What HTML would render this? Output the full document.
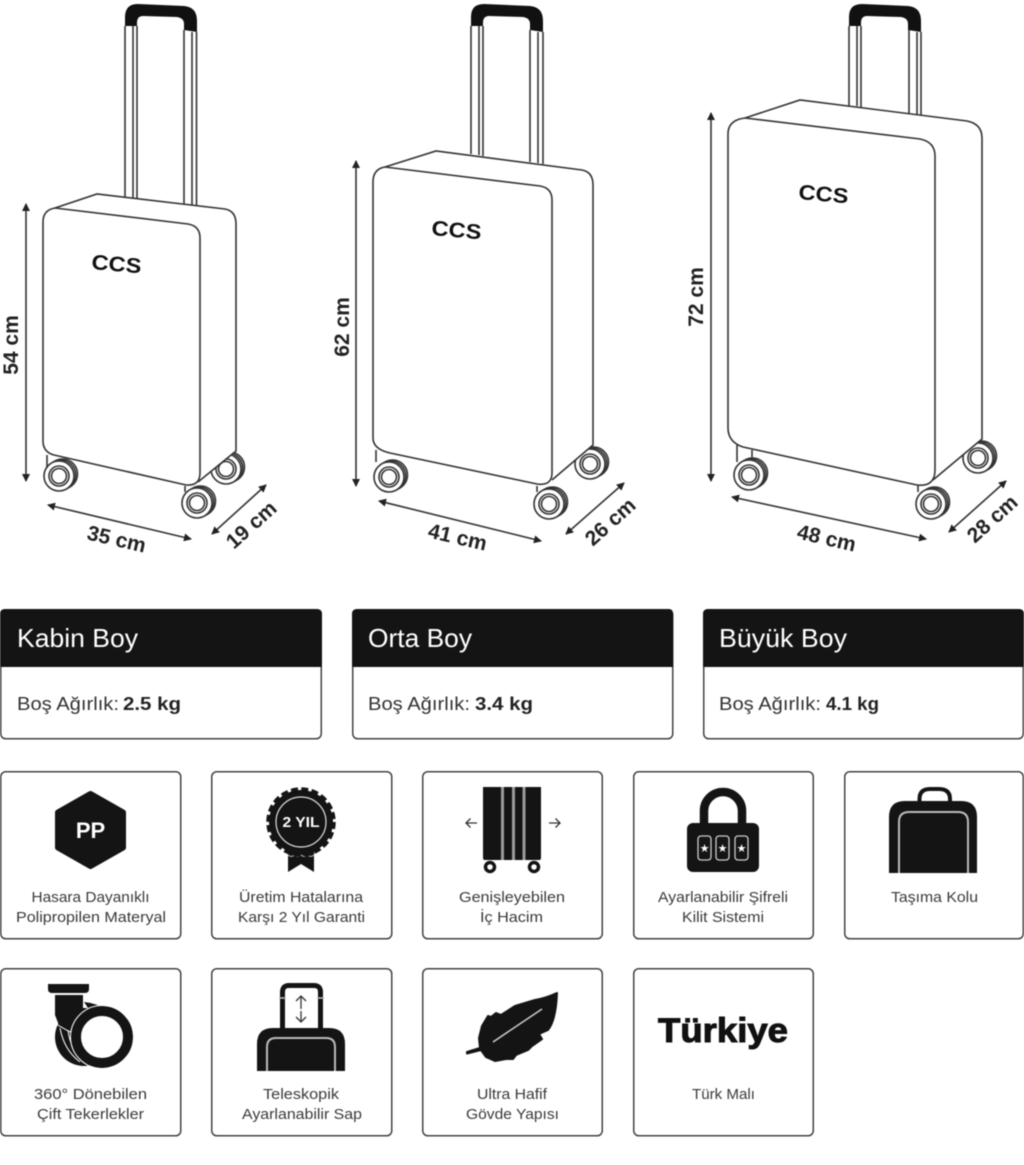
<!DOCTYPE html>
<html lang="tr"><head><meta charset="utf-8"><title>Valiz Ölçüleri</title>
<style>
html,body{margin:0;padding:0;background:#fff}
svg{display:block;filter:blur(.5px)}
text{font-family:"Liberation Sans",Arial,sans-serif}
.l{stroke:#333;stroke-width:1.6;fill:none}
.b{stroke:#333;stroke-width:1.6;fill:#fff}
.dim{font-size:21px;font-weight:bold;fill:#222;text-anchor:middle}
.logo{font-size:21px;font-weight:bold;fill:#111}
.card{fill:#fff;stroke:#444;stroke-width:1.5}
.t{font-size:15px;fill:#3a3a3a;text-anchor:middle}
.h{font-size:26px;fill:#fff}
.w{font-size:18.5px;fill:#333}
.wb{font-size:18.5px;font-weight:bold;fill:#222}
</style></head><body>
<svg width="1024" height="1165" viewBox="0 0 1024 1165" xmlns="http://www.w3.org/2000/svg">
<defs>
<marker id="a" markerUnits="userSpaceOnUse" markerWidth="9" markerHeight="9" refX="7" refY="4" orient="auto-start-reverse"><path d="M0 0L8 4L0 8Z" fill="#222"/></marker>
<g id="hand"><path d="M125 26V17Q125 4 138 4L184 6Q197 7 197 21V32L184 30V24Q184 18 177 17L143 16Q137 16 137 23V26Z" fill="#111"/></g>
<g id="wf"><circle class="b" cx="3.500" cy="-2" r="15"/><circle class="b" cx="1.700" cy="-1" r="15"/><circle class="b" r="15"/><circle class="l" r="10"/><circle class="l" r="7.500"/></g>
</defs>
<rect width="1024" height="1165" fill="#fff"/>

<!-- Kabin -->
<use href="#hand"/>
<path class="l" d="M125 26V197M133 26V198M137 26V198M184 30V204M192 32V205M196.500 32V205"/>
<use href="#wf" x="59" y="476"/><use href="#wf" x="197" y="503"/><use href="#wf" x="226" y="469"/>
<path class="l" d="M47 455V468M185 486V492"/>
<path class="b" d="M55 208L97 194L225 209Q236 211 236 224V451L198 482"/>
<path class="b" d="M43 222Q43 210 55 208L188 224Q200 226 200 238V473Q200 486 186 485L54 455Q43 452 43 441Z"/>
<text class="logo" x="91" y="269" textLength="50" lengthAdjust="spacingAndGlyphs" transform="rotate(5 91 269)">CCS</text>
<line class="l" x1="26" y1="204" x2="26" y2="481" marker-start="url(#a)" marker-end="url(#a)"/>
<line class="l" x1="48" y1="505" x2="191" y2="539" marker-start="url(#a)" marker-end="url(#a)"/>
<line class="l" x1="212" y1="534" x2="266" y2="485" marker-start="url(#a)" marker-end="url(#a)"/>
<text class="dim" transform="translate(18 345) rotate(-90)">54 cm</text>
<text class="dim" transform="translate(115 546) rotate(13)">35 cm</text>
<text class="dim" transform="translate(256 530) rotate(-42)">19 cm</text>

<!-- Orta -->
<use href="#hand" x="346"/>
<path class="l" d="M471 26V154M479 26V155M483 26V156M530 30V162M538 32V163M543 32V164"/>
<use href="#wf" x="389" y="477"/><use href="#wf" x="549" y="504"/><use href="#wf" x="590" y="464"/>
<path class="l" d="M376 450V462M537 486V492"/>
<path class="b" d="M385 167L436 151L582 170Q593 172 593 185V445L552 480"/>
<path class="b" d="M373 182Q373 169 385 167L540 186Q552 188 552 200V473Q552 486 537 484L390 453Q373 449 373 438Z"/>
<text class="logo" x="431" y="235" textLength="50" lengthAdjust="spacingAndGlyphs" transform="rotate(5 431 235)">CCS</text>
<line class="l" x1="356" y1="161" x2="356" y2="486" marker-start="url(#a)" marker-end="url(#a)"/>
<line class="l" x1="379" y1="501" x2="541" y2="541" marker-start="url(#a)" marker-end="url(#a)"/>
<line class="l" x1="566" y1="534" x2="624" y2="483" marker-start="url(#a)" marker-end="url(#a)"/>
<text class="dim" transform="translate(349 327) rotate(-90)">62 cm</text>
<text class="dim" transform="translate(456 544) rotate(13)">41 cm</text>
<text class="dim" transform="translate(615 527) rotate(-42)">26 cm</text>

<!-- Büyük -->
<use href="#hand" x="724"/>
<path class="l" d="M849 26V106M857 26V106M861 26V107M909 30V114M917 32V115M921 32V115"/>
<use href="#wf" x="749" y="475"/><use href="#wf" x="931" y="504"/><use href="#wf" x="978" y="458"/>
<path class="l" d="M737 445V462M752 450V458M918 484V492"/>
<path class="b" d="M745 118L800 100L967 121Q982 124 982 138V439L933 480"/>
<path class="b" d="M728 134Q728 120 745 118L920 139Q935 142 935 156V470Q935 487 917 485L743 447Q728 442 728 428Z"/>
<text class="logo" x="798" y="199" textLength="50" lengthAdjust="spacingAndGlyphs" transform="rotate(5 798 199)">CCS</text>
<line class="l" x1="711" y1="113" x2="711" y2="481" marker-start="url(#a)" marker-end="url(#a)"/>
<line class="l" x1="732" y1="497" x2="926" y2="539" marker-start="url(#a)" marker-end="url(#a)"/>
<line class="l" x1="949" y1="532" x2="1006" y2="481" marker-start="url(#a)" marker-end="url(#a)"/>
<text class="dim" transform="translate(703 297) rotate(-90)">72 cm</text>
<text class="dim" transform="translate(825 545) rotate(13)">48 cm</text>
<text class="dim" transform="translate(997 524) rotate(-42)">28 cm</text>

<!-- Boy kartları -->
<rect class="card" x="0.75" y="609.750" width="320.500" height="129" rx="5"/>
<path d="M0 667V614Q0 609 5 609H317Q322 609 322 614V667Z" fill="#141414"/>
<text class="h" x="17" y="647" textLength="121" lengthAdjust="spacingAndGlyphs">Kabin Boy</text>
<text class="w" x="17" y="710" textLength="102" lengthAdjust="spacingAndGlyphs">Boş Ağırlık:</text><text class="wb" x="123" y="710" textLength="58" lengthAdjust="spacingAndGlyphs">2.5 kg</text>

<rect class="card" x="352.750" y="609.750" width="320" height="129" rx="5"/>
<path d="M352 667V614Q352 609 357 609H669Q673 609 673 614V667Z" fill="#141414"/>
<text class="h" x="368" y="647" textLength="104" lengthAdjust="spacingAndGlyphs">Orta Boy</text>
<text class="w" x="368" y="710" textLength="102" lengthAdjust="spacingAndGlyphs">Boş Ağırlık:</text><text class="wb" x="475" y="710" textLength="58" lengthAdjust="spacingAndGlyphs">3.4 kg</text>

<rect class="card" x="703.750" y="609.750" width="319.500" height="129" rx="5"/>
<path d="M703 667V614Q703 609 708 609H1019Q1024 609 1024 614V667Z" fill="#141414"/>
<text class="h" x="719" y="647" textLength="128" lengthAdjust="spacingAndGlyphs">Büyük Boy</text>
<text class="w" x="719" y="710" textLength="102" lengthAdjust="spacingAndGlyphs">Boş Ağırlık:</text><text class="wb" x="826" y="710" textLength="53" lengthAdjust="spacingAndGlyphs">4.1 kg</text>

<!-- Özellik kartları -->
<rect class="card" x="0.750" y="771.750" width="180" height="167" rx="5"/>
<rect class="card" x="211.750" y="771.750" width="180" height="167" rx="5"/>
<rect class="card" x="422.750" y="771.750" width="179.500" height="167" rx="5"/>
<rect class="card" x="633.750" y="771.750" width="179.500" height="167" rx="5"/>
<rect class="card" x="844.750" y="771.750" width="178.500" height="167" rx="5"/>
<rect class="card" x="0.750" y="968.750" width="180" height="167" rx="5"/>
<rect class="card" x="211.750" y="968.750" width="180" height="167" rx="5"/>
<rect class="card" x="422.750" y="968.750" width="179.500" height="167" rx="5"/>
<rect class="card" x="633.750" y="968.750" width="179.500" height="167" rx="5"/>

<!-- PP -->
<path d="M90.500 794L123 812.500V847.500L90.500 866L58 847.500V812.500Z" fill="#141414" stroke="#141414" stroke-width="6" stroke-linejoin="round"/>
<text x="90.500" y="838" font-size="22" font-weight="bold" fill="#fff" text-anchor="middle">PP</text>
<text class="t" x="90.500" y="902" textLength="118" lengthAdjust="spacingAndGlyphs">Hasara Dayanıklı</text>
<text class="t" x="91" y="922" textLength="150" lengthAdjust="spacingAndGlyphs">Polipropilen Materyal</text>

<!-- Garanti -->
<path d="M288 848H314V872L301 864L288 872Z" fill="#141414"/>
<path d="M288 855q3.200 3 6.500 0q3.200 3 6.500 0q3.200 3 6.500 0q3.200 3 6.500 0" fill="none" stroke="#bbb" stroke-width="1"/>
<circle cx="301" cy="822" r="32" fill="#141414"/>
<circle cx="301" cy="822" r="33" fill="none" stroke="#141414" stroke-width="3.500" stroke-dasharray="7 3.370"/>
<circle cx="301" cy="822" r="25" fill="none" stroke="#ddd" stroke-width="1.200"/>
<text x="301" y="827" font-size="14.500" font-weight="bold" fill="#fff" text-anchor="middle" textLength="37" lengthAdjust="spacingAndGlyphs">2 YIL</text>
<text class="t" x="301" y="902" textLength="124" lengthAdjust="spacingAndGlyphs">Üretim Hatalarına</text>
<text class="t" x="301.500" y="922" textLength="127" lengthAdjust="spacingAndGlyphs">Karşı 2 Yıl Garanti</text>

<!-- Genişleyebilen -->
<path d="M483 787H541V858Q541 860 539 860H485Q483 860 483 858Z" fill="#141414"/>
<path d="M502.500 787V860M513.500 787V860M524 787V860" stroke="#999" stroke-width="3" fill="none"/>
<circle cx="490" cy="867" r="4.500" fill="#fff" stroke="#141414" stroke-width="3.500"/>
<circle cx="534" cy="867" r="4.500" fill="#fff" stroke="#141414" stroke-width="3.500"/>
<path d="M477 823H466M470.500 818.500L466 823L470.500 827.500M549 823H560M555.500 818.500L560 823L555.500 827.500" fill="none" stroke="#333" stroke-width="1.300"/>
<text class="t" x="512" y="902" textLength="106" lengthAdjust="spacingAndGlyphs">Genişleyebilen</text>
<text class="t" x="511.500" y="922" textLength="63" lengthAdjust="spacingAndGlyphs">İç Hacim</text>

<!-- Kilit -->
<path d="M704 825V811A19 19 0 0 1 742 811V825" fill="none" stroke="#141414" stroke-width="8.500"/>
<rect x="687" y="823" width="72" height="49" rx="6" fill="#141414"/>
<g fill="none" stroke="#ccc" stroke-width="1.300"><rect x="698" y="836" width="13" height="24" rx="3"/><rect x="716" y="836" width="13" height="24" rx="3"/><rect x="735" y="836" width="13" height="24" rx="3"/></g>
<g fill="#fff" font-size="11" text-anchor="middle"><text x="704.500" y="852">★</text><text x="722.500" y="852">★</text><text x="741.500" y="852">★</text></g>
<text class="t" x="723" y="902" textLength="130" lengthAdjust="spacingAndGlyphs">Ayarlanabilir Şifreli</text>
<text class="t" x="723" y="922" textLength="82" lengthAdjust="spacingAndGlyphs">Kilit Sistemi</text>

<!-- Taşıma kolu -->
<path d="M919.500 802V799Q919.500 789 930 789H939Q950 789 950 799V802" fill="none" stroke="#141414" stroke-width="4"/>
<path d="M889 873V817Q889 801 905 801H961Q977 801 977 817V873Z" fill="#141414"/>
<path d="M899 873V822Q899 812 909 812H958Q968 812 968 822V873" fill="none" stroke="#bbb" stroke-width="2"/>
<text class="t" x="934.500" y="902" textLength="87" lengthAdjust="spacingAndGlyphs">Taşıma Kolu</text>

<!-- Tekerlek -->
<path d="M48 984H89V989Q89 993 85 993H52Q48 993 48 989Z" fill="#141414"/>
<path d="M55 995H83V1012L90 1020L72 1040L60 1028L55 1015Z" fill="#141414"/>
<path d="M84 1002Q96 1003 108 1010L96 1020Z" fill="#141414"/>
<circle cx="84" cy="1037" r="29" fill="#141414"/>
<path d="M60 1028Q64 1050 80 1062M68 1030Q70 1050 86 1064M56 1024L70 1032L90 1010" fill="none" stroke="#fff" stroke-width="1"/>
<circle cx="102" cy="1037" r="26" fill="#fff" stroke="#141414" stroke-width="10"/>
<circle cx="102" cy="1037" r="31.500" fill="none" stroke="#fff" stroke-width="1"/>
<text class="t" x="90.500" y="1099" textLength="113" lengthAdjust="spacingAndGlyphs">360° Dönebilen</text>
<text class="t" x="90.500" y="1119" textLength="107" lengthAdjust="spacingAndGlyphs">Çift Tekerlekler</text>

<!-- Teleskopik -->
<path d="M282.500 1028V992Q282.500 985.500 289 985.500H314Q320.500 985.500 320.500 992V1028" fill="none" stroke="#141414" stroke-width="5"/>
<path d="M279 998H286M317 998H324" stroke="#bbb" stroke-width="1.500"/>
<path d="M301 1009V996M296 1001L301 996L306 1001M301 1011V1022M296 1017L301 1022L306 1017" fill="none" stroke="#333" stroke-width="1.300"/>
<path d="M257 1071V1044Q257 1028 273 1028H329Q345 1028 345 1044V1071Z" fill="#141414"/>
<path d="M267 1071V1047Q267 1038 276 1038H326Q335 1038 335 1047V1071" fill="none" stroke="#bbb" stroke-width="2"/>
<text class="t" x="301" y="1099" textLength="76" lengthAdjust="spacingAndGlyphs">Teleskopik</text>
<text class="t" x="302" y="1119" textLength="120" lengthAdjust="spacingAndGlyphs">Ayarlanabilir Sap</text>

<!-- Tüy -->
<path d="M557 993Q546 998 535 1000L515 1006L501 1015L496 1013L491 1017L488 1016L482 1026L479 1038L480 1048L467 1052L467 1053.500L481 1050L486 1057L495 1061L506 1059L513 1059L516 1055L528 1050L532 1046L542 1039L539 1034L548 1030Q556 1020 557 993Z" fill="#141414" stroke="#141414" stroke-width="2" stroke-linejoin="round"/>
<path d="M493 1042L542 1009" stroke="#ccc" stroke-width="1.500" fill="none"/>
<text class="t" x="512" y="1099" textLength="70" lengthAdjust="spacingAndGlyphs">Ultra Hafif</text>
<text class="t" x="512.500" y="1119" textLength="93" lengthAdjust="spacingAndGlyphs">Gövde Yapısı</text>

<!-- Türkiye -->
<text x="658" y="1042" font-size="34" font-weight="bold" fill="#111" stroke="#111" stroke-width="1" textLength="130" lengthAdjust="spacingAndGlyphs">Türkiye</text>
<text class="t" x="723.500" y="1099" textLength="63" lengthAdjust="spacingAndGlyphs">Türk Malı</text>
</svg>
</body></html>
